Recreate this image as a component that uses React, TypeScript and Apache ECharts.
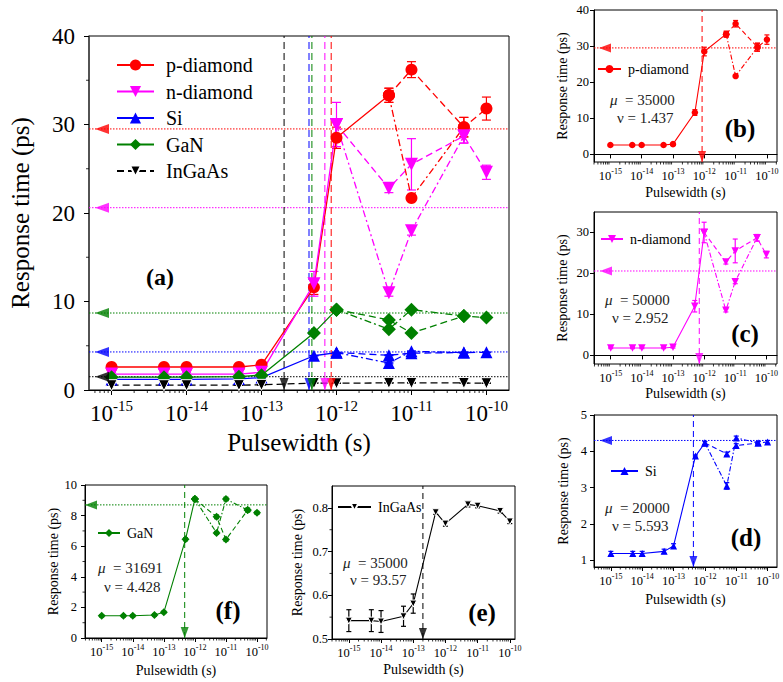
import React, { useEffect, useRef } from "react";
import * as echarts from "echarts";

const FONT = "Liberation Serif, Times New Roman, serif";

// Pulsewidths in femtoseconds (1 fs = 1e-15 s); labels show seconds.
const risePulsewidthFs = [1, 5, 10, 50, 100, 500, 1000];
const tailPulsewidthFs = [5000, 10000, 50000, 100000];

// Response time (ps)
const pDiamondRise = [2.6, 2.6, 2.6, 2.6, 2.85, 11.6, 28.5];
const pDiamondTailA = [33.3, 36.2, 29.7, 31.8];
const pDiamondTailB = [33.3, 21.7, 29.7];
const pDiamondRiseErr = [0.15, 0.15, 0.15, 0.15, 0.2, 0.8, 1.2];
const pDiamondTailAErr = [0.8, 0.9, 1.1, 1.3];
const pDiamondTailBErr = [0.8, 0.3, 1.1];

const nDiamondRise = [1.8, 1.8, 1.8, 1.8, 2.0, 12.0, 30.0];
const nDiamondTailA = [22.8, 25.5, 28.7, 24.6];
const nDiamondTailB = [11.0, 18.0, 28.7];
const nDiamondRiseErr = [0.15, 0.15, 0.15, 0.15, 0.2, 1.4, 2.5];
const nDiamondTailAErr = [0.5, 2.9, 0.8, 0.8];
const nDiamondTailBErr = [0.4, 0.5, 0.8];

const siRise = [1.19, 1.19, 1.19, 1.25, 1.4, 3.87, 4.23];
const siTailA = [3.93, 4.16, 4.23, 4.26];
const siTailB = [3.05, 4.37, 4.23];
const siRiseErr = [0.06, 0.06, 0.06, 0.06, 0.06, 0.03, 0.04];
const siTailAErr = [0.05, 0.05, 0.04, 0.04];
const siTailBErr = [0.09, 0.05, 0.04];

const ganRise = [1.45, 1.45, 1.45, 1.5, 1.68, 6.45, 9.08];
const ganTailA = [7.92, 6.43, 8.36, 8.18];
const ganTailB = [6.87, 9.08, 8.36];
const ganRiseErr = [0.08, 0.08, 0.08, 0.08, 0.08, 0.1, 0.12];
const ganTailAErr = [0.12, 0.1, 0.12, 0.1];
const ganTailBErr = [0.1, 0.12, 0.12];

const ingaasRise = [0.542, 0.542, 0.54, 0.552, 0.581, 0.79, 0.764];
const ingaasTail = [0.808, 0.805, 0.793, 0.769];
const ingaasRiseErr = [0.025, 0.025, 0.025, 0.023, 0.022, 0.005, 0.006];
const ingaasTailErr = [0.006, 0.005, 0.005, 0.005];

const materialNames = ["p-diamond", "n-diamond", "Si", "GaN", "InGaAs"];
const criticalPulsewidthFs = [850, 700, 430, 470, 200];
const saturatedResponse = [29.5, 20.6, 4.3, 8.7, 1.5];
const mobilityLabels = ["35000", "50000", "20000", "31691", "35000"];
const nuLabels = ["1.437", "2.952", "5.593", "4.428", "93.57"];

const DOWN = "path://M0,0L10,0L5,9Z";
const LEFT_ARROW = "path://M0,5L10,0L10,10Z";
const DOWN_ARROW = "path://M0,0L10,0L5,10Z";

const MAT: any[] = [
  { color: "#ff0000", symbol: "circle", big: 12, small: 6.5, rise: pDiamondRise, riseErr: pDiamondRiseErr, tailA: pDiamondTailA, tailAErr: pDiamondTailAErr, tailB: pDiamondTailB, tailBErr: pDiamondTailBErr, solidThrough: true },
  { color: "#ff00ff", symbol: DOWN, big: 13, small: 7.5, rise: nDiamondRise, riseErr: nDiamondRiseErr, tailA: nDiamondTailA, tailAErr: nDiamondTailAErr, tailB: nDiamondTailB, tailBErr: nDiamondTailBErr },
  { color: "#0000ff", symbol: "triangle", big: 12, small: 7, rise: siRise, riseErr: siRiseErr, tailA: siTailA, tailAErr: siTailAErr, tailB: siTailB, tailBErr: siTailBErr },
  { color: "#008000", symbol: "diamond", big: 14, small: 8, rise: ganRise, riseErr: ganRiseErr, tailA: ganTailA, tailAErr: ganTailAErr, tailB: ganTailB, tailBErr: ganTailBErr },
  { color: "#000000", symbol: DOWN, big: 11, small: 7, rise: ingaasRise, riseErr: ingaasRiseErr, tailA: ingaasTail, tailAErr: ingaasTailErr, border: "#ffffff" },
];

const PANELS: any[] = [
  { big: true, left: 86, top: 36, width: 423, height: 354, xMin: 0.5, xMax: 2e5, yMin: 0, yMax: 40, yTicks: [0, 10, 20, 30, 40], yMinor: [5, 15, 25, 35], arrowGap: 6, yMargin: 14, xNameGap: 40, yNameGap: 56, label: "(a)", labelPos: [160, 277], labelSize: 24, legend: { left: 116, top: 55 } },
  { mat: 0, left: 594, top: 10, width: 183, height: 152, xMin: 0.3, xMax: 2.1e5, yMin: -2.1, yMax: 40, yTicks: [0, 10, 20, 30, 40], yMinor: [], arrowGap: 5, yMargin: 5, xNameGap: 23, yNameGap: 25, label: "(b)", labelPos: [740, 128], mu: [610, 100], nu: [617, 118], legend: { left: 597, top: 62, lineW: 23 } },
  { mat: 1, left: 594, top: 212, width: 183, height: 152, xMin: 0.29, xMax: 2.2e5, yMin: -2.1, yMax: 35, yTicks: [0, 10, 20, 30], yMinor: [], arrowGap: 6, yMargin: 5, xNameGap: 22, yNameGap: 25, label: "(c)", labelPos: [745, 333], mu: [605, 300], nu: [612, 318], legend: { left: 600, top: 232, lineW: 22 } },
  { mat: 2, left: 594, top: 415, width: 183, height: 152, xMin: 0.29, xMax: 2e5, yMin: 0.82, yMax: 5, yTicks: [1, 2, 3, 4, 5], yMinor: [], arrowGap: 6, yMargin: 7, xNameGap: 25, yNameGap: 24, label: "(d)", labelPos: [746, 537], mu: [605, 508], nu: [612, 526], legend: { left: 610, top: 464, lineW: 27 } },
  { mat: 3, left: 85, top: 485, width: 182, height: 153, xMin: 0.29, xMax: 2.1e5, yMin: 0, yMax: 10, yTicks: [0, 2, 4, 6, 8, 10], yMinor: [1, 3, 5, 7, 9], arrowGap: 0, yMargin: 8, xNameGap: 25, yNameGap: 23, label: "(f)", labelPos: [228, 610], mu: [98, 568], nu: [104, 587], legend: { left: 97, top: 526, lineW: 22 } },
  { mat: 4, left: 332, top: 486, width: 183, height: 153, xMin: 0.3, xMax: 1.45e5, yMin: 0.5, yMax: 0.85, yTicks: [0.5, 0.6, 0.7, 0.8], yMinor: [0.55, 0.65, 0.75], arrowGap: 0, yMargin: 4, xNameGap: 23, yNameGap: 28, label: "(e)", labelPos: [482, 612], mu: [343, 563], nu: [350, 580], legend: { left: 337, top: 500, lineW: 33 } },
];

const expLabel = (v: number) => {
  const l = Math.log10(v);
  const r = Math.round(l);
  if (Math.abs(l - r) > 1e-6) return "";
  return `{b|10}{s|${r - 15}}`;
};

const yLabel = (v: number) =>
  Math.abs(v - Math.round(v)) < 1e-9 ? String(Math.round(v)) : v.toFixed(1);

function logMinorTicks(min: number, max: number) {
  const out: number[] = [];
  for (let e = -1; e <= 5; e++)
    for (let k = 2; k <= 9; k++) {
      const v = k * Math.pow(10, e);
      if (v > min && v < max) out.push(v);
    }
  return out;
}

function errData(xs: number[], ys: number[], es: number[]) {
  return xs.slice(0, ys.length).map((x, i) => [x, ys[i] - es[i], ys[i] + es[i]]);
}

function errSeries(axisCommon: any, data: number[][], color: string, big: boolean) {
  const w = big ? 4.5 : 2.5;
  return {
    type: "custom", ...axisCommon, silent: true, z: 3,
    encode: { x: 0, y: [1, 2] },
    data,
    renderItem: (_params: any, api: any) => {
      const x = api.value(0);
      const p1 = api.coord([x, api.value(1)]);
      const p2 = api.coord([x, api.value(2)]);
      const style = { stroke: color, lineWidth: 1.2 };
      return {
        type: "group",
        children: [
          { type: "line", shape: { x1: p1[0], y1: p1[1], x2: p2[0], y2: p2[1] }, style },
          { type: "line", shape: { x1: p1[0] - w, y1: p1[1], x2: p1[0] + w, y2: p1[1] }, style },
          { type: "line", shape: { x1: p2[0] - w, y1: p2[1], x2: p2[0] + w, y2: p2[1] }, style },
        ],
      };
    },
  };
}

function buildOption() {
  const grid: any[] = [];
  const xAxis: any[] = [];
  const yAxis: any[] = [];
  const series: any[] = [];
  const legend: any[] = [];
  const graphic: any[] = [];

  PANELS.forEach((p, gi) => {
    const big = !!p.big;
    const axisCommon = { xAxisIndex: gi, yAxisIndex: gi };
    grid.push({ left: p.left, top: p.top, width: p.width, height: p.height, show: true, borderColor: "#000", borderWidth: 1, backgroundColor: "transparent" });
    xAxis.push({
      type: "log", logBase: 10, gridIndex: gi, min: p.xMin, max: p.xMax,
      axisLine: { show: true, lineStyle: { color: "#000", width: 1 } },
      axisTick: { show: true, inside: false, length: big ? 5 : 4, lineStyle: { color: "#000" } },
      axisLabel: {
        formatter: expLabel, margin: big ? 8 : 5, showMinLabel: false, showMaxLabel: false, color: "#000",
        rich: {
          b: { fontSize: big ? 23 : 12.5, fontFamily: FONT, color: "#000", verticalAlign: "middle" },
          s: { fontSize: big ? 15 : 8, fontFamily: FONT, color: "#000", verticalAlign: "middle", padding: [0, 0, big ? 16 : 9, 0] },
        },
      },
      splitLine: { show: false },
      name: "Pulsewidth (s)", nameLocation: "middle", nameGap: p.xNameGap,
      nameTextStyle: { fontSize: big ? 25 : 14, fontFamily: FONT, color: "#000" },
    });
    yAxis.push({
      type: "value", gridIndex: gi, min: p.yMin, max: p.yMax,
      axisLine: { show: true, lineStyle: { color: big ? "#444" : "#000", width: big ? 1.5 : 1 } },
      axisTick: { show: true, inside: false, length: big ? 5 : 4, customValues: p.yTicks, lineStyle: { color: "#000" } },
      axisLabel: { customValues: p.yTicks, formatter: yLabel, margin: p.yMargin, fontSize: big ? 23 : 12.5, fontFamily: FONT, color: "#000" },
      splitLine: { show: false },
      name: "Response time (ps)", nameLocation: "middle", nameGap: p.yNameGap,
      nameTextStyle: { fontSize: big ? 25 : 14, fontFamily: FONT, color: "#000" },
    });

    // minor ticks
    const mlen = big ? 3 : 2.5;
    series.push({
      type: "scatter", ...axisCommon, silent: true, clip: false, z: 2,
      data: logMinorTicks(p.xMin, p.xMax).map((v) => [v, p.yMin]),
      symbol: "rect", symbolSize: [1, mlen], symbolOffset: [0, mlen / 2],
      itemStyle: { color: "#000" },
    });
    if (p.yMinor.length) {
      series.push({
        type: "scatter", ...axisCommon, silent: true, clip: false, z: 2,
        data: p.yMinor.map((v: number) => [p.xMin, v]),
        symbol: "rect", symbolSize: [mlen, 1], symbolOffset: [-mlen / 2, 0],
        itemStyle: { color: "#000" },
      });
    }

    const mats = big ? [0, 1, 2, 3, 4] : [p.mat];
    const suffix = big ? "" : " ";
    const lw = big ? 1.3 : 1.1;
    const dash = big ? [7, 4] : [5, 3];
    const dashDot = big ? [7, 3, 2, 3] : [5, 2, 1.5, 2];

    // reference lines
    mats.forEach((mi) => {
      const m = MAT[mi];
      const h = saturatedResponse[mi];
      if (h >= p.yMin && h <= p.yMax) {
        series.push({
          type: "line", ...axisCommon, silent: true, z: 1, symbol: "none",
          data: [[p.xMin, h], [p.xMax, h]],
          lineStyle: { color: m.color, width: 1, type: [1.5, 1.5] },
        });
        const aw = big ? 14 : 12;
        series.push({
          type: "scatter", ...axisCommon, silent: true, clip: false, z: 6,
          data: [[p.xMin, h]], symbol: LEFT_ARROW, symbolSize: [aw, big ? 10 : 9],
          symbolOffset: [p.arrowGap + aw / 2, 0], itemStyle: { color: m.color },
        });
      }
      const v = criticalPulsewidthFs[mi];
      series.push({
        type: "line", ...axisCommon, silent: true, z: 1, symbol: "none",
        data: [[v, p.yMin], [v, p.yMax]],
        lineStyle: { color: m.color, width: 1, type: big ? [7, 4] : [6, 4] },
      });
      const ah = big ? 12 : 11;
      series.push({
        type: "scatter", ...axisCommon, silent: true, clip: false, z: 6,
        data: [[v, p.yMin]], symbol: DOWN_ARROW, symbolSize: [big ? 9 : 8, ah],
        symbolOffset: [0, -ah / 2], itemStyle: { color: m.color },
      });
    });

    // data series
    mats.forEach((mi) => {
      const m = MAT[mi];
      const name = materialNames[mi] + suffix;
      const common = {
        ...axisCommon, name, symbol: m.symbol, symbolSize: big ? m.big : m.small,
        itemStyle: { color: m.color, borderColor: m.border || m.color, borderWidth: m.border ? 1 : 0 },
        z: 4, showSymbol: true, clip: false,
      };
      const rise = risePulsewidthFs.map((x, i) => [x, m.rise[i]]);
      const lastRise = rise[rise.length - 1];
      const tailA = tailPulsewidthFs.map((x, i) => [x, m.tailA[i]]);
      if (!m.tailB) {
        series.push({ type: "line", ...common, data: [...rise, ...tailA], lineStyle: { color: m.color, width: lw, type: big ? dash : "solid" } });
        series.push(errSeries(axisCommon, [...errData(risePulsewidthFs, m.rise, m.riseErr), ...errData(tailPulsewidthFs, m.tailA, m.tailAErr)], m.color, big));
        return;
      }
      const mainData = m.solidThrough ? [...rise, tailA[0]] : rise;
      const start = m.solidThrough ? [] : [lastRise];
      const tailB = m.tailB.map((y: number, i: number) => [tailPulsewidthFs[i], y]);
      series.push({ type: "line", ...common, data: mainData, lineStyle: { color: m.color, width: lw, type: "solid" } });
      series.push({ type: "line", ...common, data: [...start, ...tailA], lineStyle: { color: m.color, width: lw, type: dash } });
      series.push({ type: "line", ...common, data: [...start, ...tailB], lineStyle: { color: m.color, width: lw, type: dashDot } });
      series.push(errSeries(axisCommon, [
        ...errData(risePulsewidthFs, m.rise, m.riseErr),
        ...errData(tailPulsewidthFs, m.tailA, m.tailAErr),
        ...errData(tailPulsewidthFs, m.tailB, m.tailBErr),
      ], m.color, big));
    });

    // legend
    const lg = p.legend;
    legend.push({
      data: mats.map((mi) => materialNames[mi] + suffix),
      orient: "vertical", left: lg.left, top: lg.top, padding: 0,
      itemWidth: big ? 37 : lg.lineW, itemHeight: big ? 14 : 10, itemGap: big ? 6.5 : 5,
      selectedMode: false,
      textStyle: { fontSize: big ? 20 : 14, fontFamily: FONT, color: "#000", lineHeight: big ? 20 : 14, padding: [0, 0, 0, big ? 7 : 2] },
    });

    graphic.push({
      type: "text", x: p.labelPos[0], y: p.labelPos[1], silent: true,
      style: { text: p.label, fontSize: p.labelSize || 25, fontWeight: "bold", fontFamily: FONT, fill: "#000", align: "center", verticalAlign: "middle" },
    });
    if (!big) {
      graphic.push({
        type: "text", x: p.mu[0], y: p.mu[1], silent: true,
        style: {
          text: `{i|μ}  = ${mobilityLabels[p.mat]}`, fontSize: 15, fontFamily: FONT, fill: "#222", align: "left", verticalAlign: "middle",
          rich: { i: { fontStyle: "italic", fontSize: 15, fontFamily: FONT, fill: "#222" } },
        },
      });
      graphic.push({
        type: "text", x: p.nu[0], y: p.nu[1], silent: true,
        style: { text: `ν = ${nuLabels[p.mat]}`, fontSize: 15, fontFamily: FONT, fill: "#222", align: "left", verticalAlign: "middle" },
      });
    }
  });

  return { animation: false, backgroundColor: "#fff", grid, xAxis, yAxis, series, legend, graphic };
}

export default function App() {
  const ref = useRef<HTMLDivElement>(null);
  useEffect(() => {
    const chart = echarts.init(ref.current!, undefined, { renderer: "svg" });
    chart.setOption(buildOption());
    return () => chart.dispose();
  }, []);
  return (
    <div
      ref={ref}
      style={{ position: "absolute", left: 0, top: 0, width: 783, height: 682, background: "#fff" }}
    />
  );
}
